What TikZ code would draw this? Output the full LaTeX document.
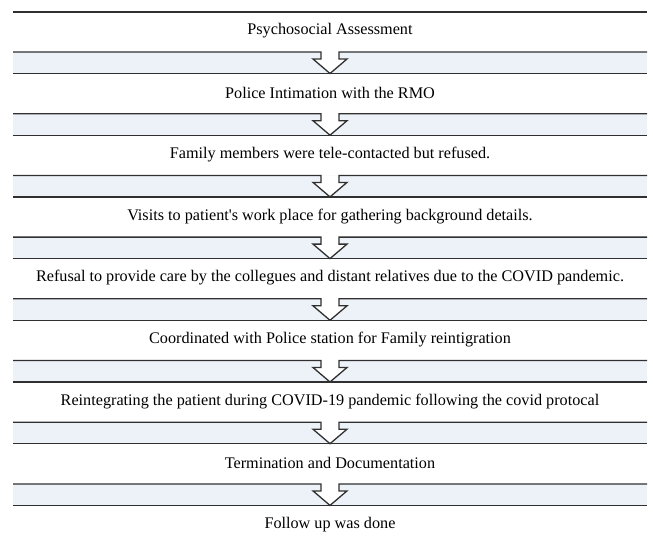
\documentclass[tikz,border=0pt]{standalone}
\usepackage{fontspec}
\setmainfont{Liberation Serif}
\usetikzlibrary{
  positioning,
  calc
}
\definecolor{fcBand}{HTML}{EDF2F9}
\definecolor{fcLine}{HTML}{303030}
\tikzset{
  steptext/.style={font=\fontsize{16.2}{18}\selectfont, inner sep=0pt, anchor=center},
  bandfill/.style={fill=fcBand, draw=none},
  bandline/.style={draw=fcLine, line width=1.3pt},
  chevron/.style={bandline, fill=white, line join=miter}
}
\begin{document}
\begin{tikzpicture}[x=1pt, y=-1pt]
  \useasboundingbox (0,0) rectangle (653,543);
  \draw[bandline] (13,12) -- (647,12);
  % steps
  \foreach \txt [count=\i from 0] in {
      {Psychosocial Assessment},
      {Police Intimation with the RMO},
      {Family members were tele-contacted but refused.},
      {Visits to patient\textquotesingle s work place for gathering background details.},
      {Refusal to provide care by the collegues and distant relatives due to the COVID pandemic.},
      {Coordinated with Police station for Family reintigration},
      {Reintegrating the patient during COVID-19 pandemic following the covid protocal},
      {Termination and Documentation},
      {Follow up was done}}
    \node[steptext] (s\i) at (330,{31+61.7*\i}) {\txt};
  % bands with arrows between steps
  \foreach \i in {0,...,7} {
    \coordinate (t\i) at ($(s\i.center)+(0,21)$);
    \coordinate (b\i) at ($(t\i)+(0,21.5)$);
    \fill[bandfill] ($(t\i)+(-317,0)$) rectangle ($(b\i)+(317,0)$);
    \draw[bandline] ($(b\i)+(-317,0)$) -- ($(b\i)+(317,0)$);
    \draw[chevron] ($(t\i)+(-317,0)$) -- ($(t\i)+(-9,0)$) -- ($(t\i)+(-9,7)$)
      -- ($(t\i)+(-17,7)$) -- (b\i) -- ($(t\i)+(17,7)$) -- ($(t\i)+(9,7)$)
      -- ($(t\i)+(9,0)$) -- ($(t\i)+(317,0)$);
  }
\end{tikzpicture}
\end{document}
